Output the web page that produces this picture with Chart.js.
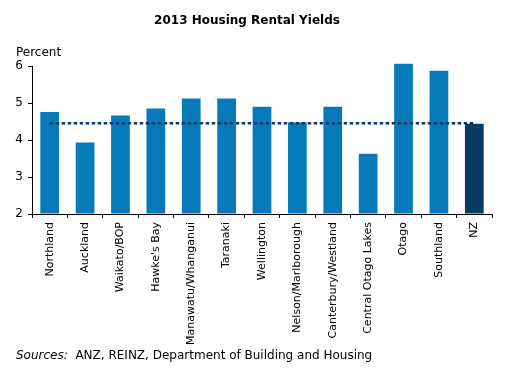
<!DOCTYPE html>
<html>
<head>
<meta charset="utf-8">
<script src="https://cdn.jsdelivr.net/npm/chart.js@4/dist/chart.umd.min.js"></script>
<style>
  html, body { margin: 0; padding: 0; background: #ffffff; }
  #wrap { width: 512px; height: 375px; }
</style>
</head>
<body>
<div id="wrap"><canvas id="chart" width="512" height="375"></canvas></div>
<script>
// dados
const regions = ['Northland', 'Auckland', 'Waikato/BOP', "Hawke's Bay", 'Manawatu/Whanganui', 'Taranaki',
    'Wellington', 'Nelson/Marlborough', 'Canterbury/Westland', 'Central Otago Lakes', 'Otago', 'Southland', 'NZ'];
const yields = [4.76, 3.93, 4.66, 4.85, 5.12, 5.12, 4.90, 4.47, 4.90, 3.63, 6.06, 5.87, 4.44];
const nzAverage = 4.45;
const yTicks = [2, 3, 4, 5, 6];

const FONT = 'DejaVu Sans, Verdana, sans-serif';
const barColor = '#077bb9';
const nzColor = '#073d61';

// textos fixos: título, "Percent" e fontes
const textPlugin = {
    id: 'texts',
    afterDraw(chart) {
        const ctx = chart.ctx;
        ctx.save();
        ctx.fillStyle = '#000000';
        ctx.textBaseline = 'middle';
        ctx.font = 'bold 12px ' + FONT;
        ctx.textAlign = 'center';
        ctx.fillText('2013 Housing Rental Yields', 247, 21);
        ctx.font = '12px ' + FONT;
        ctx.textAlign = 'left';
        ctx.fillText('Percent', 16, 53);
        ctx.font = 'italic 12px ' + FONT;
        const s = 'Sources:';
        ctx.fillText(s, 16, 356);
        const w = ctx.measureText(s).width;
        ctx.font = '12px ' + FONT;
        ctx.fillText('  ANZ, REINZ, Department of Building and Housing', 16 + w, 356);
        ctx.restore();
    }
};

new Chart(document.getElementById('chart'), {
    type: 'bar',
    data: {
        labels: regions,
        datasets: [{
            type: 'line',
            data: regions.map(() => nzAverage),
            borderColor: nzColor,
            borderWidth: 2.5,
            borderDash: [3.5, 2.5],
            pointRadius: 0,
            fill: false,
            order: 0
        }, {
            data: yields,
            backgroundColor: regions.map(r => r === 'NZ' ? nzColor : barColor),
            barPercentage: 0.53,
            categoryPercentage: 1,
            base: 2,
            clip: false,
            order: 1
        }]
    },
    options: {
        responsive: false,
        animation: false,
        layout: { padding: { top: 66, right: 20, bottom: 10, left: 0 } },
        plugins: {
            legend: { display: false },
            tooltip: { enabled: false }
        },
        scales: {
            x: {
                afterFit(scale) { scale.height = 375 - 214 - 10; },
                grid: { drawOnChartArea: false, tickLength: 4, color: '#000000', offset: true },
                border: { color: '#000000', width: 1 },
                ticks: {
                    color: '#000000',
                    font: { family: FONT, size: 11 },
                    minRotation: 90,
                    maxRotation: 90,
                    autoSkip: false,
                    padding: 4
                }
            },
            y: {
                min: 2,
                max: 6,
                afterFit(scale) { scale.width = 32; },
                afterBuildTicks(scale) { scale.ticks = yTicks.map(v => ({ value: v })); },
                grid: { drawOnChartArea: false, tickLength: 4, color: '#000000' },
                border: { color: '#000000', width: 1 },
                ticks: {
                    color: '#000000',
                    font: { family: FONT, size: 12 },
                    padding: 5
                }
            }
        }
    },
    plugins: [textPlugin]
});
</script>
</body>
</html>
